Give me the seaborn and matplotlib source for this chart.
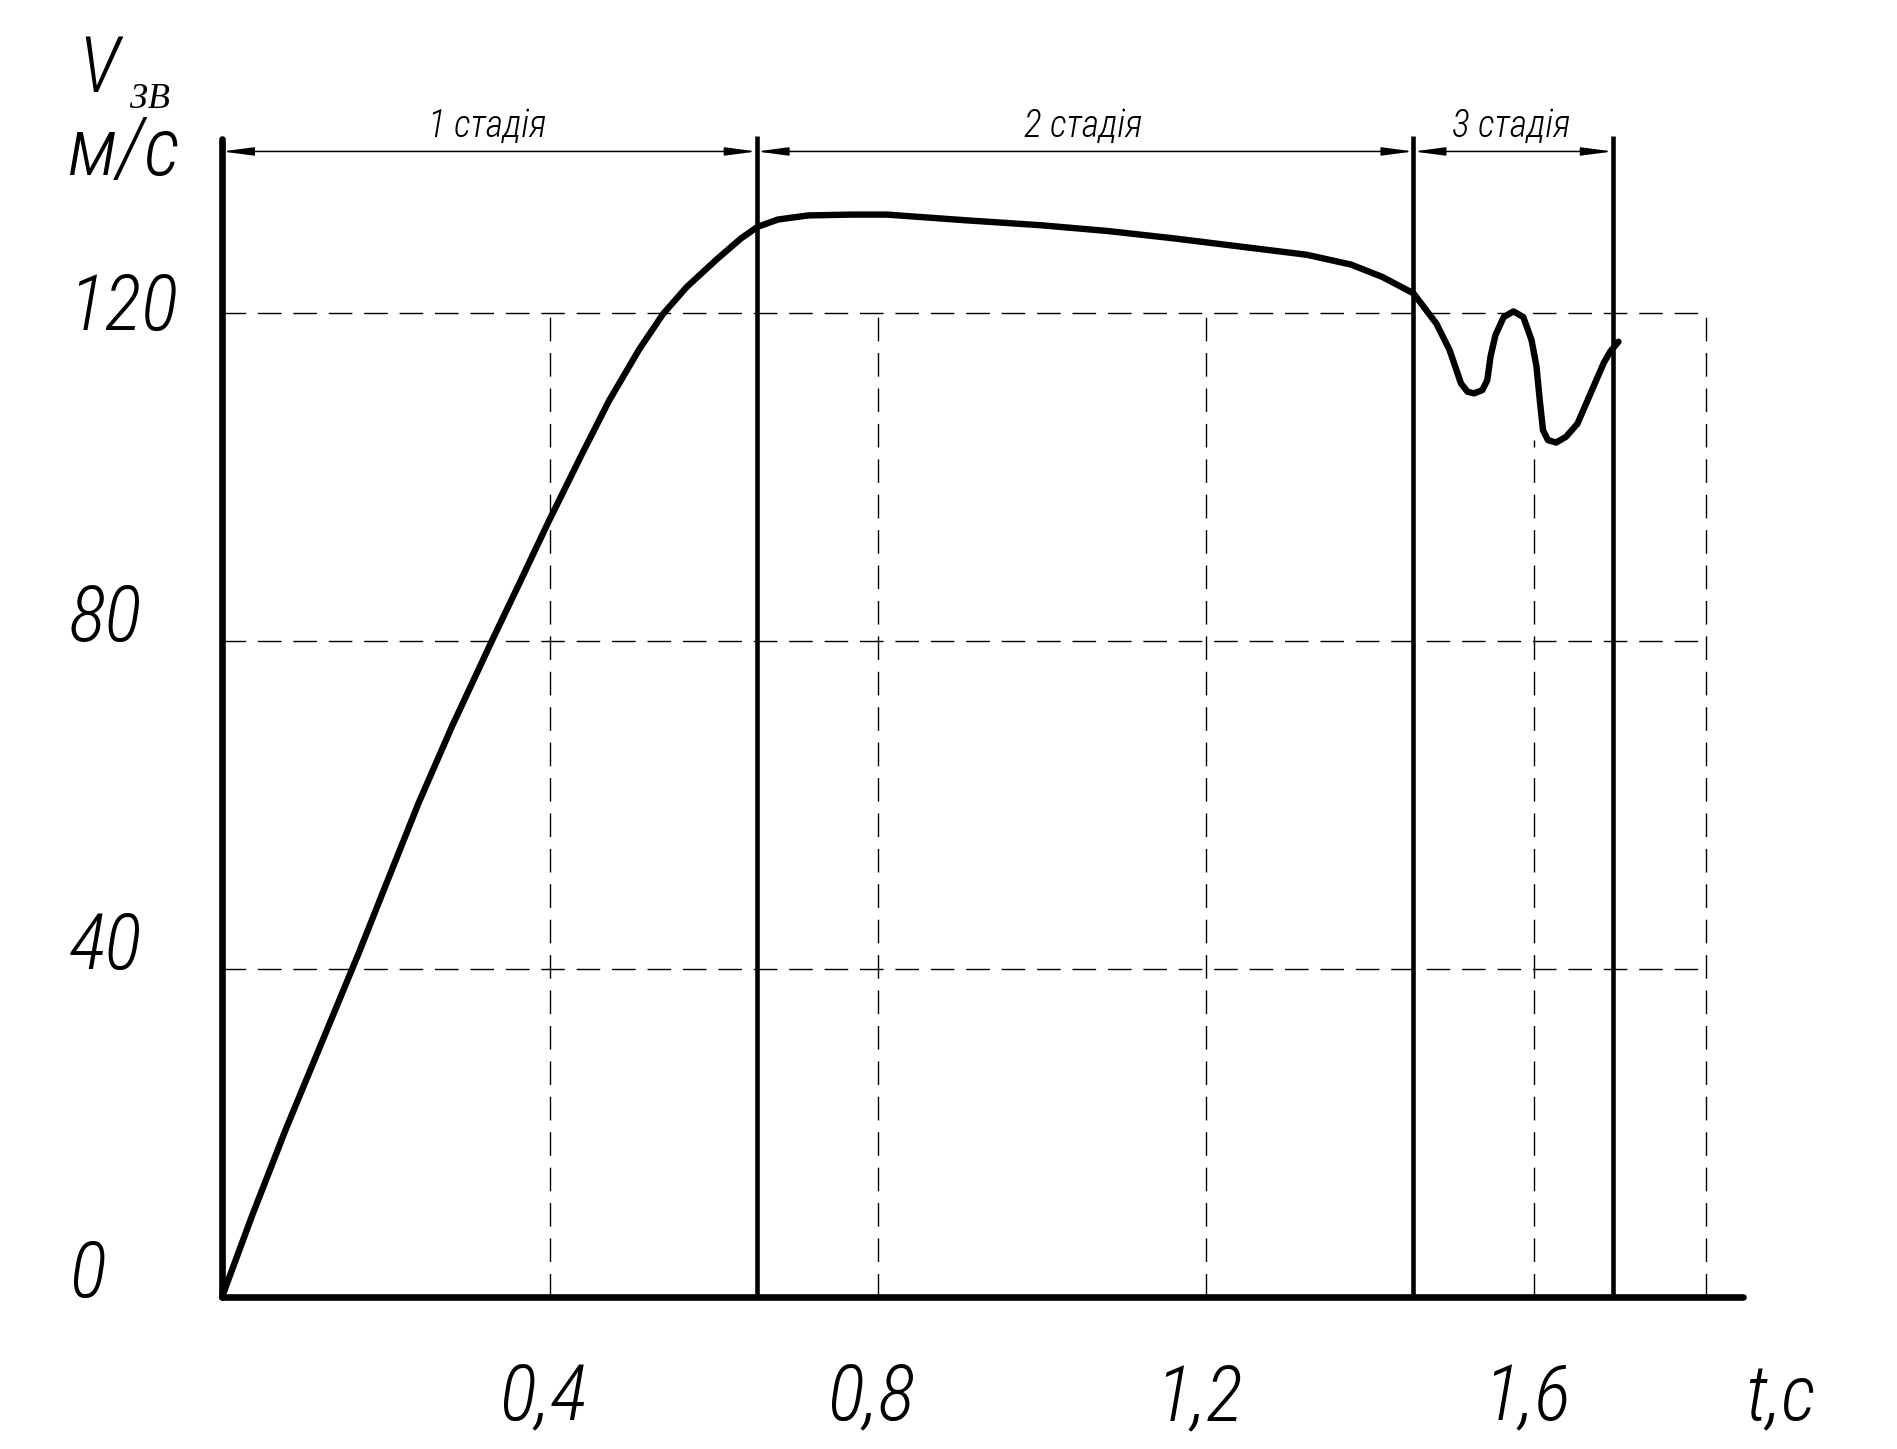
import matplotlib
matplotlib.use("Agg")
import matplotlib.pyplot as plt
from matplotlib import font_manager
from matplotlib.font_manager import FontProperties
import pandas as pd
import seaborn as sns

# крива швидкості звуку
t_curve = [0.0, 0.037, 0.078, 0.119, 0.167, 0.200, 0.240, 0.281, 0.330, 0.363,
           0.398, 0.439, 0.472, 0.509, 0.538, 0.567, 0.604, 0.633, 0.653, 0.678,
           0.715, 0.768, 0.811, 0.908, 0.999, 1.080, 1.161, 1.242, 1.323, 1.377,
           1.415, 1.453, 1.481, 1.497, 1.511, 1.519, 1.527, 1.537, 1.543, 1.547,
           1.553, 1.563, 1.575, 1.587, 1.597, 1.603, 1.607, 1.611, 1.617, 1.627,
           1.639, 1.653, 1.669, 1.685, 1.693, 1.703]
v_curve = [0.0, 10.0, 20.5, 30.4, 42.0, 50.3, 60.3, 69.7, 80.2, 87.1,
           94.5, 102.8, 109.3, 115.6, 119.9, 123.2, 126.6, 129.1, 130.5, 131.4,
           131.9, 132.0, 132.0, 131.3, 130.7, 130.0, 129.1, 128.1, 127.1, 125.9,
           124.4, 122.4, 118.7, 115.5, 111.4, 110.4, 110.2, 110.6, 111.8, 114.7,
           117.3, 119.5, 120.2, 119.5, 116.7, 113.5, 109.4, 105.7, 104.5, 104.2,
           104.9, 106.5, 110.2, 113.9, 115.3, 116.5]

# межі стадій
stage_bounds = [0.0, 0.652, 1.453, 1.696]
stage_labels = ["1 стадія", "2 стадія", "3 стадія"]
stage_label_t = [0.323, 1.050, 1.572]

x_ticks = [0.4, 0.8, 1.2, 1.6]
x_tick_labels = ["0,4", "0,8", "1,2", "1,6"]
x_grid_tops = [120, 120, 120, 104.5]
y_ticks = [0, 40, 80, 120]
y_tick_labels = ["0", "40", "80", "120"]
grid_right = 1.81

df = pd.DataFrame({"t": t_curve, "v": v_curve})

# ===============================
# шрифт: шукаємо вузький курсив
# ===============================
ttf = font_manager.fontManager.ttflist
prefer = ["RobotoCondensed-LightItalic", "LiberationSansNarrow-Italic",
          "RobotoCondensed-Italic", "NotoSans-CondensedLightItalic",
          "NotoSans-CondensedItalic", "DejaVuSansCondensed-Oblique",
          "OpenSans-CondensedItalic", "OpenSans_Condensed-Italic"]
font_file = None
for p in prefer:
    hit = [f.fname for f in ttf if p.lower() in f.fname.lower()]
    if hit:
        font_file = hit[0]
        break
if font_file is None:
    hit = [f.fname for f in ttf
           if any(k in f.fname.lower() for k in ("condensed", "narrow"))
           and f.style in ("italic", "oblique")]
    if hit:
        font_file = sorted(hit)[0]


def gost(size):
    if font_file:
        return FontProperties(fname=font_file, size=size)
    return FontProperties(family="Roboto", style="italic", size=size)


sns.set_style("white")

W, H = 1897, 1449
x0, y0 = 222, 1297        # положення початку координат у пікселях
px_t, px_v = 820.0, 8.2   # пікселів на 1 с і на 1 м/с

fig = plt.figure(figsize=(W / 100, H / 100), dpi=100)
ax = fig.add_axes([0, 0, 1, 1])
ax.set_xlim(-x0 / px_t, (W - x0) / px_t)
ax.set_ylim((y0 - H) / px_v, y0 / px_v)
ax.set_facecolor("white")

# сітка
dash = (0, (17, 8.5))
for xv, top in zip(x_ticks, x_grid_tops):
    ax.plot([xv, xv], [0, top], color="black", lw=1.0, ls=dash)
ax.plot([grid_right, grid_right], [0, 120], color="black", lw=1.0, ls=dash)
for yv in y_ticks[1:]:
    ax.plot([0, grid_right], [yv, yv], color="black", lw=1.0, ls=dash)

# межі стадій
for b in stage_bounds[1:]:
    ax.plot([b, b], [0, 141.6], color="black", lw=3.3, solid_capstyle="butt")

# розмірні лінії
for i in range(3):
    ax.annotate("", xy=(stage_bounds[i + 1], 139.7), xytext=(stage_bounds[i], 139.7),
                arrowprops=dict(arrowstyle="<|-|>,head_length=1.9,head_width=0.25",
                                color="black", lw=1.1, shrinkA=0, shrinkB=0,
                                mutation_scale=10))
    ax.text(stage_label_t[i], 141.5, stage_labels[i], ha="center", va="baseline",
            color="black", fontproperties=gost(27))

# крива
sns.lineplot(data=df, x="t", y="v", sort=False, estimator=None, color="black",
             linewidth=4.6, ax=ax, solid_joinstyle="round", solid_capstyle="round")

# осі
for side in ["top", "right"]:
    ax.spines[side].set_visible(False)
ax.spines["left"].set_position(("data", 0))
ax.spines["bottom"].set_position(("data", 0))
ax.spines["left"].set_bounds(0, 141.2)
ax.spines["bottom"].set_bounds(0, 1.855)
for side in ["left", "bottom"]:
    ax.spines[side].set_linewidth(4.8)
    ax.spines[side].set_color("black")
    ax.spines[side].set_capstyle("round")
ax.set_xticks([])
ax.set_yticks([])
ax.set_xlabel("")
ax.set_ylabel("")

# підписи
for yv, lab in zip(y_ticks, y_tick_labels):
    ypos = yv if yv < 120 else 117.9
    ax.text(-0.187, ypos, lab, ha="left", va="baseline", color="black",
            fontproperties=gost(56))
for xv, lab in zip(x_ticks, x_tick_labels):
    ax.text(xv - 0.008, -15.0, lab, ha="center", va="baseline", color="black",
            fontproperties=gost(56))
ax.text(1.90, -15.0, "t,с", ha="center", va="baseline", color="black",
        fontproperties=gost(56))

ax.text(-0.175, 147.0, "V", ha="left", va="baseline", color="black",
        fontproperties=gost(56))
ax.text(-0.112, 145.0, "ЗВ", ha="left", va="baseline", color="black",
        fontsize=26, family="Liberation Serif", style="italic")
ax.text(-0.189, 136.8, "м/с", ha="left", va="baseline", color="black",
        fontproperties=gost(58))

fig.savefig("out.png", dpi=100, facecolor="white")
